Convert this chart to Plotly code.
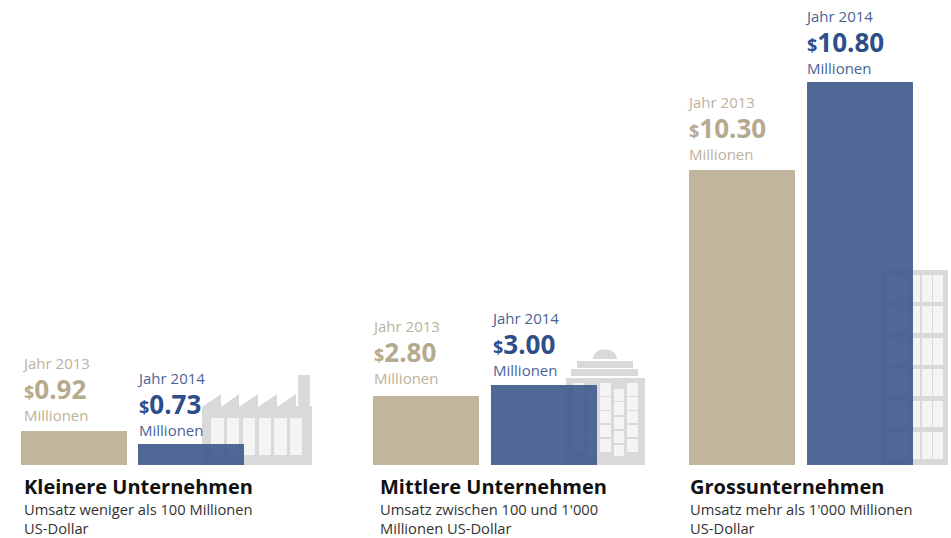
import plotly.graph_objects as go

# ---- data ----
categories = ["Kleinere Unternehmen", "Mittlere Unternehmen", "Grossunternehmen"]
subtitle_1 = ["Umsatz weniger als 100 Millionen", "Umsatz zwischen 100 und 1'000", "Umsatz mehr als 1'000 Millionen"]
subtitle_2 = ["US-Dollar", "Millionen US-Dollar", "US-Dollar"]
years = ["Jahr 2013", "Jahr 2014"]
labels_2013 = ["0.92", "2.80", "10.30"]
labels_2014 = ["0.73", "3.00", "10.80"]
# The drawn bar heights in the source are not proportional to the printed labels,
# so the heights as drawn are read separately.
drawn_2013 = [34, 69, 295]
drawn_2014 = [21, 80, 383]

# ---- layout ----
W, H = 951, 538
BASE = 465  # pixel row of the baseline
BEIGE, BLUE = "#C1B59D", "rgba(65,91,140,0.92)"
T_BEIGE, V_BEIGE = "#BDB29B", "#B5A98E"
T_BLUE, V_BLUE = "#4A6396", "#2E4E8A"
GREY, PANE = "#D9D9D9", "#F4F4F4"
FONT = "Open Sans"

left_2013 = [21, 373, 689]
left_2014 = [138, 491, 807]
BAR_W = 106
text_x_2013 = [24, 374, 689]
text_x_2014 = [139, 493, 807]
gap_2013 = [16, 18, 16]  # px from bar top up to the "Millionen" line
gap_2014 = [14, 15, 14]
head_x = [24, 380, 690]


def Y(py):
    return BASE - py


fig = go.Figure()
fig.add_bar(x=[l + BAR_W / 2 for l in left_2013], y=drawn_2013, width=BAR_W,
            marker=dict(color=BEIGE, line_width=0), name=years[0])
fig.add_bar(x=[l + BAR_W / 2 for l in left_2014], y=drawn_2014, width=BAR_W,
            marker=dict(color=BLUE, line_width=0), name=years[1])

shapes = []


def rect(x0, y0, x1, y1, color):
    shapes.append(dict(type="rect", layer="below", x0=x0, x1=x1, y0=Y(y0), y1=Y(y1),
                       fillcolor=color, line_width=0))


def path(points, color):
    d = "M " + " L ".join(f"{x},{Y(y)}" for x, y in points) + " Z"
    shapes.append(dict(type="path", layer="below", path=d, fillcolor=color, line_width=0))


# factory
rect(298, 375, 310, 408, GREY)
path([(202, 407), (221, 394), (221, 407), (239, 394), (239, 407), (258, 394), (258, 407),
      (277, 394), (277, 407), (296, 394), (296, 406), (312, 406), (312, 465), (202, 465)], GREY)
for a, b in [(211, 224), (227, 239), (243, 255), (259, 271), (274, 287), (290, 302)]:
    rect(a, 418, b, 455, PANE)

# office
rect(566, 378, 645, 465, GREY)
rect(571, 369, 638, 376, GREY)
rect(577, 361, 633, 368, GREY)
shapes.append(dict(type="path", layer="below", fillcolor=GREY, line_width=0,
                   path=f"M 593,{Y(359)} C 594,{Y(346)} 616,{Y(346)} 617,{Y(359)} Z"))
rows_a = [(383, 396), (397, 410), (411, 423), (425, 437), (439, 452)]
rows_b = [(389, 401), (402, 415), (417, 429), (431, 443), (445, 456)]
for cols, rows in [([(573, 584), (600, 611), (627, 638)], rows_a),
                   ([(587, 597), (614, 624)], rows_b)]:
    for a, b in cols:
        for c, d in rows:
            rect(a, c, b, d, PANE)

# tower
rect(882, 270, 948, 465, GREY)
for a, b in [(887, 897), (899, 909), (912, 920), (922, 932), (933, 943)]:
    for c, d in [(275, 302), (306, 333), (338, 365), (369, 396), (401, 427), (432, 459)]:
        rect(a, c, b, d, PANE)

ann = []


def txt(x, py, s, size, color, dx=0):
    ann.append(dict(x=x, y=Y(py), text=s, xanchor="left", yanchor="middle", showarrow=False,
                    xshift=-2 + dx, font=dict(family=FONT, size=size, color=color)))


def block(x, top, gap, year, val, tc, vc):
    mil = top - gap
    txt(x, mil - 52, year, 15, tc, -2)
    txt(x, mil - 26, f'<b><span style="font-size:18px">$</span>{val}</b>', 26, vc)
    txt(x, mil, "Millionen", 15, tc)


for i in range(3):
    block(text_x_2013[i], BASE - drawn_2013[i], gap_2013[i], years[0], labels_2013[i], T_BEIGE, V_BEIGE)
    block(text_x_2014[i], BASE - drawn_2014[i], gap_2014[i], years[1], labels_2014[i], T_BLUE, V_BLUE)
    txt(head_x[i], 486, f"<b>{categories[i]}</b>", 20, "#111111")
    txt(head_x[i], 509, subtitle_1[i], 14.7, "#333333")
    txt(head_x[i], 528, subtitle_2[i], 14.7, "#333333")

fig.update_layout(
    width=W, height=H, autosize=False, margin=dict(l=0, r=0, t=0, b=0),
    paper_bgcolor="white", plot_bgcolor="white", showlegend=False, barmode="overlay",
    xaxis=dict(range=[0, W], visible=False, fixedrange=True),
    yaxis=dict(range=[BASE - H, BASE], visible=False, fixedrange=True),
    shapes=shapes, annotations=ann,
)
fig.write_html("out.html", config={"displayModeBar": False},
               post_script="document.body.style.margin='0';document.documentElement.style.overflow='hidden';")
